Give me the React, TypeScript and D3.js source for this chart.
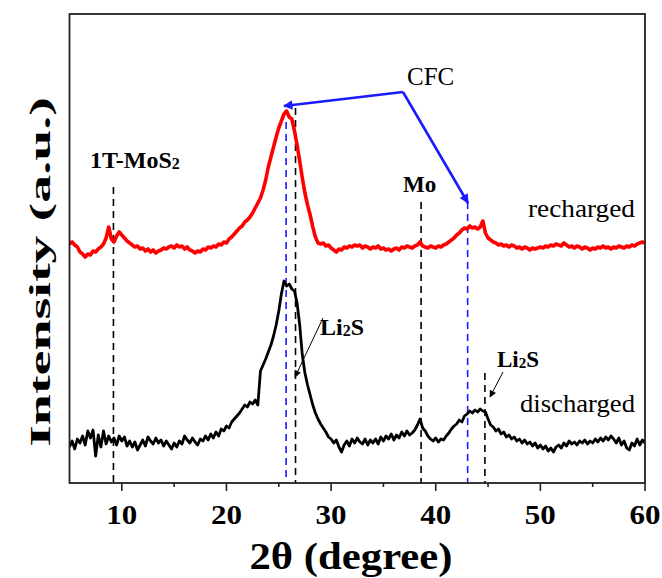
import React from 'react';
import * as d3 from 'd3';

// 2θ grid starts at 5° with 0.25° step
const startAngle = 5;
const stepAngle = 0.25;

// recharged (red) intensities
const recharged = [
  239, 241, 238, 236, 231, 229, 226, 229, 228, 232, 231, 234, 236, 239, 245, 256, 244, 241, 247, 251,
  248, 245, 242, 240, 238, 236, 237, 234, 235, 232, 234, 231, 233, 230, 232, 233, 235, 234, 236, 237,
  235, 238, 236, 237, 234, 236, 233, 232, 230, 232, 231, 234, 233, 236, 235, 237, 236, 239, 238, 241,
  240, 244, 246, 249, 252, 255, 257, 261, 263, 266, 270, 275, 280, 285, 293, 303, 316, 326, 336, 346,
  355, 362, 369, 372, 366, 364, 352, 338, 322, 305, 290, 278, 268, 256, 246, 240, 239, 240, 237, 238,
  235, 233, 231, 234, 233, 236, 235, 237, 236, 238, 237, 238, 235, 237, 236, 234, 236, 235, 237, 234,
  235, 233, 234, 232, 234, 235, 233, 236, 235, 237, 236, 235, 237, 238, 241, 237, 236, 235, 237, 236,
  235, 237, 236, 238, 239, 241, 243, 245, 248, 250, 253, 255, 254, 257, 255, 256, 254, 256, 262, 250,
  245, 243, 241, 240, 238, 239, 237, 238, 236, 238, 237, 235, 236, 234, 236, 235, 233, 235, 234, 235,
  236, 235, 237, 236, 238, 237, 239, 238, 237, 240, 238, 236, 237, 235, 237, 236, 234, 236, 235, 233,
  235, 234, 236, 235, 237, 235, 236, 234, 236, 235, 237, 236, 235, 237, 236, 238, 237, 239, 240, 241,
  240,
];

// discharged (black) intensities
const discharged = [
  36, 42, 34, 44, 40, 47, 38, 52, 45, 53, 27, 48, 36, 52, 39, 47, 41, 45, 38, 47,
  42, 46, 37, 42, 36, 41, 33, 38, 43, 37, 46, 42, 39, 45, 40, 43, 37, 42, 38, 34,
  40, 36, 42, 39, 47, 43, 40, 45, 41, 38, 44, 42, 47, 43, 49, 45, 51, 47, 54, 52,
  57, 55, 61, 64, 67, 70, 74, 78, 76, 81, 79, 83, 78, 112, 118, 124, 131, 138, 147, 158,
  172, 189, 202, 197, 199, 194, 192, 180, 158, 128, 110, 98, 88, 78, 70, 64, 59, 55, 51, 46,
  44, 40, 43, 36, 31, 38, 42, 37, 44, 40, 45, 41, 39, 44, 38, 43, 40, 44, 39, 46,
  42, 47, 44, 49, 43, 48, 45, 51, 47, 52, 48, 50, 53, 58, 64, 55, 52, 47, 44, 42,
  45, 41, 44, 43, 47, 50, 54, 57, 59, 63, 61, 67, 69, 72, 70, 73, 71, 74, 72, 71,
  64, 58, 56, 52, 54, 49, 51, 46, 48, 44, 46, 42, 44, 40, 43, 39, 41, 37, 40, 35,
  38, 34, 37, 32, 35, 31, 36, 38, 35, 40, 37, 42, 39, 41, 38, 42, 40, 43, 39, 42,
  40, 44, 41, 45, 42, 46, 43, 47, 44, 40, 45, 38, 42, 35, 33, 40, 37, 44, 38, 43,
  40,
];

// dashed reference lines: position, top of the line (intensity units), colour
const refLines = [
  { pos: 9.2, top: 296, color: '#000' },
  { pos: 26.6, top: 375, color: '#000' },
  { pos: 25.7, top: 361, color: '#1a1aff' },
  { pos: 38.6, top: 281, color: '#000' },
  { pos: 43.05, top: 281, color: '#1a1aff' },
  { pos: 44.7, top: 110, color: '#000' },
];

const xTicks = [10, 20, 30, 40, 50, 60];
const xMinorTicks = [15, 25, 35, 45, 55];

const W = 662;
const H = 578;
const left = 69.5, right = 645, top = 14, bottom = 483;
const font = '"Liberation Serif", "Times New Roman", serif';

export default function App() {
  const x = d3.scaleLinear().domain([5, 60]).range([left, right]);
  const y = d3.scaleLinear().domain([0, 469]).range([bottom, top]);

  const toPts = (arr: number[]) => arr.map((v, i) => [startAngle + i * stepAngle, v] as [number, number]);
  const line = d3.line<[number, number]>().x(d => x(d[0])).y(d => y(d[1]));

  return (
    <svg width={W} height={H} style={{ position: 'absolute', left: 0, top: 0, background: '#fff' }}>
      <defs>
        <marker id="blueHead" viewBox="0 0 10 10" refX="9" refY="5" markerWidth="6" markerHeight="3.6" markerUnits="strokeWidth" orient="auto">
          <path d="M0,0 L10,5 L0,10 z" fill="#1a1aff" />
        </marker>
        <marker id="blackHead" viewBox="0 0 10 10" refX="9" refY="5" markerWidth="9" markerHeight="7" markerUnits="strokeWidth" orient="auto">
          <path d="M0,0 L10,5 L0,10 z" fill="#000" />
        </marker>
        <clipPath id="plotClip">
          <rect x={left} y={top} width={right - left} height={bottom - top} />
        </clipPath>
      </defs>

      {/* dashed reference lines */}
      {refLines.map((r, i) => (
        <line key={i} x1={x(r.pos)} x2={x(r.pos)} y1={y(r.top)} y2={bottom}
          stroke={r.color} strokeWidth={1.6} strokeDasharray="7,5" />
      ))}

      <g clipPath="url(#plotClip)">
        <path d={line(toPts(recharged)) || ''} fill="none" stroke="#ff0000" strokeWidth={3.6} strokeLinejoin="round" />
        <path d={line(toPts(discharged)) || ''} fill="none" stroke="#000" strokeWidth={2.8} strokeLinejoin="round" />
      </g>

      {/* frame */}
      <rect x={left} y={top} width={right - left} height={bottom - top} fill="none" stroke="#222" strokeWidth={1.8} />

      {/* x ticks */}
      {xTicks.map(t => (
        <g key={t}>
          <line x1={x(t)} x2={x(t)} y1={bottom} y2={bottom + 8} stroke="#222" strokeWidth={1.6} />
          <text x={x(t)} y={524} textAnchor="middle" fontFamily={font} fontWeight="bold" fontSize={27}
            textLength={31} lengthAdjust="spacingAndGlyphs">{t}</text>
        </g>
      ))}
      {xMinorTicks.map(t => (
        <line key={t} x1={x(t)} x2={x(t)} y1={bottom} y2={bottom + 4} stroke="#222" strokeWidth={1.6} />
      ))}

      {/* axis titles */}
      <text x={351} y={569} textAnchor="middle" fontFamily={font} fontWeight="bold" fontSize={37}
        textLength={203} lengthAdjust="spacingAndGlyphs">2θ (degree)</text>
      <text transform="translate(50,272) rotate(-90)" textAnchor="middle" fontFamily={font} fontWeight="bold" fontSize={29}
        textLength={350} lengthAdjust="spacingAndGlyphs">Intensity (a.u.)</text>

      {/* annotations */}
      <text x={90} y={168} fontFamily={font} fontWeight="bold" fontSize={24}>1T-MoS<tspan fontSize={16} dy={1}>2</tspan></text>
      <text x={403} y={192} fontFamily={font} fontWeight="bold" fontSize={23}>Mo</text>
      <text x={528} y={217} fontFamily={font} fontSize={26} textLength={107} lengthAdjust="spacingAndGlyphs">recharged</text>
      <text x={520} y={412} fontFamily={font} fontSize={26} textLength={115} lengthAdjust="spacingAndGlyphs">discharged</text>
      <text x={407} y={85} fontFamily={font} fontSize={25}>CFC</text>
      <text x={320} y={335} fontFamily={font} fontWeight="bold" fontSize={24}>Li<tspan fontSize={16} dy={1}>2</tspan><tspan dy={-1}>S</tspan></text>
      <text x={497} y={367} fontFamily={font} fontWeight="bold" fontSize={23}>Li<tspan fontSize={15} dy={1}>2</tspan><tspan dy={-1}>S</tspan></text>

      {/* CFC arrows */}
      <line x1={403} y1={92} x2={284} y2={106} stroke="#1a1aff" strokeWidth={2.6} markerEnd="url(#blueHead)" />
      <line x1={403} y1={92} x2={468} y2={203} stroke="#1a1aff" strokeWidth={2.6} markerEnd="url(#blueHead)" />

      {/* Li2S arrows */}
      <line x1={323} y1={318} x2={295} y2={377} stroke="#000" strokeWidth={1} markerEnd="url(#blackHead)" />
      <line x1={503} y1={372} x2={490} y2={397} stroke="#000" strokeWidth={1} markerEnd="url(#blackHead)" />
    </svg>
  );
}
